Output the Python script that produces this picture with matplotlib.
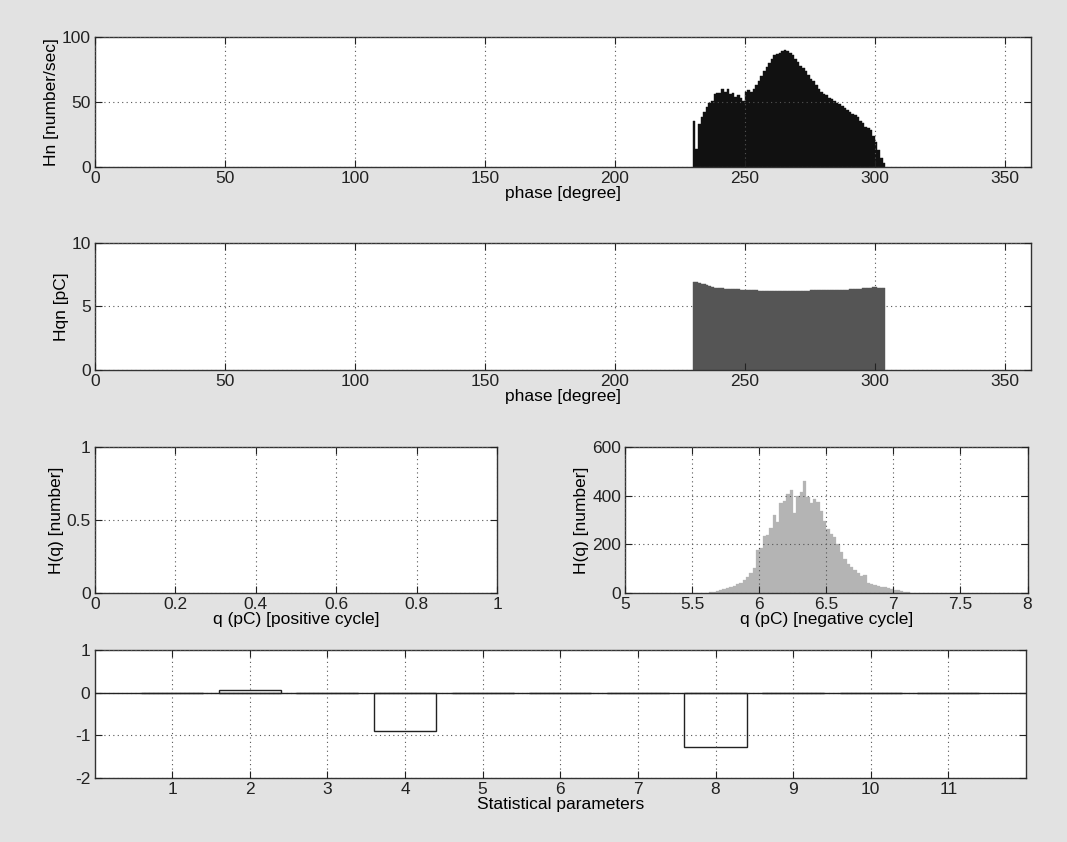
import numpy as np
import matplotlib
matplotlib.use("Agg")
import matplotlib.pyplot as plt

plt.rcParams["font.family"] = ["Liberation Sans", "DejaVu Sans"]
plt.rcParams["font.size"] = 12.5
plt.rcParams["axes.unicode_minus"] = False

# ---- data ----
# phase histogram (1 degree bins, left edges 230..303)
phase_start = 230
hn_counts = [35, 14, 33, 38, 42, 46, 49, 51, 56, 57, 57, 60, 58, 60, 56, 57,
             54, 55, 53, 51, 58, 59, 58, 60, 63, 66, 70, 74, 77, 80, 83, 86,
             87, 88, 89, 90, 89, 88, 86, 83, 81, 78, 76, 74, 71, 68, 66, 63,
             60, 58, 56, 55, 53, 52, 51, 49, 48, 47, 45, 44, 42, 41, 40, 38,
             35, 34, 31, 30, 28, 24, 19, 13, 7, 3]
hqn_charge = [6.9, 6.9, 6.85, 6.8, 6.75, 6.7, 6.6, 6.55, 6.5, 6.5, 6.45, 6.45,
              6.42, 6.4, 6.4, 6.38, 6.36, 6.35, 6.33, 6.32, 6.3, 6.3, 6.28,
              6.28, 6.27, 6.26, 6.25, 6.25, 6.25, 6.24, 6.24, 6.24, 6.23, 6.23,
              6.23, 6.24, 6.24, 6.24, 6.25, 6.25, 6.25, 6.25, 6.26, 6.26, 6.26,
              6.27, 6.27, 6.27, 6.28, 6.28, 6.28, 6.29, 6.29, 6.3, 6.3, 6.31,
              6.31, 6.32, 6.33, 6.34, 6.35, 6.36, 6.38, 6.4, 6.42, 6.44, 6.46,
              6.48, 6.5, 6.52, 6.52, 6.5, 6.48, 6.45]

# charge histogram, negative cycle (0.025 pC bins starting at 5.625)
q_start, q_width = 5.625, 0.025
hq_neg = [3, 5, 8, 12, 16, 20, 24, 28, 35, 42, 52, 63, 82, 100, 175, 185,
          232, 240, 268, 320, 290, 368, 378, 405, 425, 330, 400, 415, 460, 395,
          370, 385, 375, 335, 295, 262, 243, 228, 200, 168, 140, 120, 107, 93,
          80, 70, 73, 42, 35, 31, 28, 25, 22, 19, 16, 13, 10, 7, 5, 3]

# statistical parameters
stat_idx = [1, 2, 3, 4, 5, 6, 7, 8, 9, 10, 11]
stat_val = [0, 0.06, 0, -0.9, 0, 0, 0, -1.27, 0, 0, 0]


def matlab_axes(ax):
    ax.set_facecolor("white")
    ax.grid(True, linestyle=(0, (1, 3)), color="#555555", linewidth=0.8)
    ax.set_axisbelow(False)
    ax.tick_params(direction="in", top=True, right=True, length=5,
                   labelsize=12.5, colors="#222222", pad=3)
    for s in ax.spines.values():
        s.set_color("#333333")
        s.set_linewidth(1.0)


fig = plt.figure(figsize=(10.67, 8.42), dpi=100)
fig.patch.set_facecolor("#e2e2e2")

# --- Hn ---
ax1 = fig.add_axes([0.089, 0.802, 0.877, 0.154])
x1 = phase_start + np.arange(len(hn_counts))
ax1.bar(x1, hn_counts, width=1.0, align="edge", color="#111111",
        edgecolor="#111111", linewidth=0.3, zorder=1)
ax1.set_xlim(0, 360)
ax1.set_ylim(0, 100)
ax1.set_xticks(np.arange(0, 360, 50))
ax1.set_yticks([0, 50, 100])
ax1.set_xlabel("phase [degree]", labelpad=0)
ax1.set_ylabel("Hn [number/sec]", labelpad=2)
matlab_axes(ax1)

# --- Hqn ---
ax2 = fig.add_axes([0.089, 0.561, 0.877, 0.150])
x2 = phase_start + np.arange(len(hqn_charge))
ax2.bar(x2, hqn_charge, width=1.0, align="edge", color="#555555",
        edgecolor="#555555", linewidth=0.3, zorder=1)
ax2.set_xlim(0, 360)
ax2.set_ylim(0, 10)
ax2.set_xticks(np.arange(0, 360, 50))
ax2.set_yticks([0, 5, 10])
ax2.set_xlabel("phase [degree]", labelpad=0)
ax2.set_ylabel("Hqn [pC]", labelpad=2)
matlab_axes(ax2)

# --- H(q) positive cycle (empty) ---
ax3 = fig.add_axes([0.089, 0.296, 0.377, 0.173])
ax3.set_xlim(0, 1)
ax3.set_ylim(0, 1)
ax3.set_xticks([0, 0.2, 0.4, 0.6, 0.8, 1])
ax3.set_xticklabels(["0", "0.2", "0.4", "0.6", "0.8", "1"])
ax3.set_yticks([0, 0.5, 1])
ax3.set_yticklabels(["0", "0.5", "1"])
ax3.set_xlabel("q (pC) [positive cycle]", labelpad=0)
ax3.set_ylabel("H(q) [number]", labelpad=2)
matlab_axes(ax3)

# --- H(q) negative cycle ---
ax4 = fig.add_axes([0.586, 0.296, 0.377, 0.173])
x4 = q_start + q_width * np.arange(len(hq_neg))
ax4.bar(x4, hq_neg, width=q_width, align="edge", color="#b4b4b4",
        edgecolor="#b4b4b4", linewidth=0.2, zorder=1)
ax4.set_xlim(5, 8)
ax4.set_ylim(0, 600)
ax4.set_xticks([5, 5.5, 6, 6.5, 7, 7.5, 8])
ax4.set_xticklabels(["5", "5.5", "6", "6.5", "7", "7.5", "8"])
ax4.set_yticks([0, 200, 400, 600])
ax4.set_xlabel("q (pC) [negative cycle]", labelpad=0)
ax4.set_ylabel("H(q) [number]", labelpad=2)
matlab_axes(ax4)

# --- statistical parameters ---
ax5 = fig.add_axes([0.0886, 0.076, 0.873, 0.152])
ax5.bar(stat_idx, stat_val, width=0.8, color="white", edgecolor="#222222",
        linewidth=1.0, zorder=2)
ax5.axhline(0, color="#222222", linewidth=1.0, zorder=3)
ax5.set_xlim(0, 12)
ax5.set_ylim(-2, 1)
ax5.set_xticks(stat_idx)
ax5.set_yticks([-2, -1, 0, 1])
ax5.set_xlabel("Statistical parameters", labelpad=0)
matlab_axes(ax5)

fig.savefig("out.png", dpi=100, facecolor=fig.get_facecolor())
